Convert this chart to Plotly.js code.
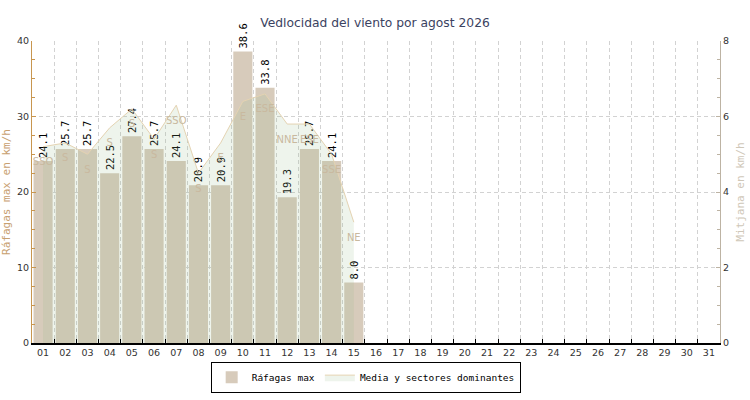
<!DOCTYPE html>
<html>
<head>
<meta charset="utf-8">
<script src="https://cdn.plot.ly/plotly-3.0.1.min.js"></script>
<style>
  body { margin: 0; background: #fff; }
  #chart { width: 750px; height: 400px; }
</style>
</head>
<body>
<div id="chart"></div>
<script>
// dias del mes
var dias = ['01','02','03','04','05','06','07','08','09','10','11','12','13','14','15','16',
            '17','18','19','20','21','22','23','24','25','26','27','28','29','30','31'];
// datos registrados (dias 01-15)
var diasDatos = dias.slice(0, 15);
var rafagas = [24.1, 25.7, 25.7, 22.5, 27.4, 25.7, 24.1, 20.9, 20.9, 38.6, 33.8, 19.3, 25.7, 24.1, 8.0];
var media = [5.2, 5.3, 5.0, 5.7, 6.2, 5.4, 6.3, 4.5, 5.3, 6.4, 6.6, 5.8, 5.8, 5.0, 3.2];
var sectores = ['SSO','S','S','S','S','S','SSO','S','E','E','ESE','NNE','ESE','SSE','NE'];

var mono = 'DejaVu Sans Mono, monospace';
var sans = 'DejaVu Sans, sans-serif';

var trRafagas = {
  x: diasDatos,
  y: rafagas,
  type: 'bar',
  name: 'Ráfagas max',
  marker: { color: '#d7cbbb', line: { color: '#d7cbbb', width: 0 } },
  texttemplate: '%{y:.1f}',
  textposition: 'outside',
  textangle: -90,
  constraintext: 'none',
  cliponaxis: false,
  textfont: { family: mono, size: 10.5, color: '#000' },
  hoverinfo: 'x+y'
};

var trMedia = {
  x: diasDatos,
  y: media,
  yaxis: 'y2',
  type: 'scatter',
  mode: 'lines',
  name: 'Media y sectores dominantes',
  fill: 'tozeroy',
  fillcolor: 'rgba(150,185,135,0.16)',
  line: { color: '#e4d3b2', width: 1 }
};

// etiquetas de sector, un poco por debajo de cada punto
var trSectores = {
  x: diasDatos,
  y: media,
  yaxis: 'y2',
  type: 'scatter',
  mode: 'markers+text',
  marker: { size: 16, opacity: 0 },
  text: sectores,
  textposition: 'bottom center',
  textfont: { family: sans, size: 10, color: '#c9b99f' },
  showlegend: false,
  cliponaxis: false,
  hoverinfo: 'skip'
};

var layout = {
  width: 750,
  height: 400,
  margin: { l: 32, r: 30, t: 41, b: 57, autoexpand: false },
  paper_bgcolor: '#fff',
  plot_bgcolor: '#fff',
  bargap: 0.14,
  title: {
    text: 'Vedlocidad del viento por agost 2026',
    font: { family: sans, size: 12.3, color: '#3b4261' },
    x: 0.5,
    y: 0.943,
    yanchor: 'middle'
  },
  xaxis: {
    type: 'category',
    categoryorder: 'array',
    categoryarray: dias,
    range: [-0.5, 30.5],
    tickson: 'boundaries',
    ticks: 'inside',
    ticklen: 4,
    tickcolor: '#000',
    showline: true,
    linecolor: '#000',
    linewidth: 1.5,
    showgrid: true,
    gridcolor: '#d2d2d2',
    griddash: '4px,3px',
    tickfont: { family: sans, size: 9.5, color: '#333' },
    fixedrange: true
  },
  yaxis: {
    range: [0, 40],
    dtick: 10,
    ticks: 'inside',
    ticklen: 4,
    tickcolor: '#c8964f',
    showline: true,
    linecolor: '#c8964f',
    linewidth: 1,
    showgrid: true,
    gridcolor: '#d2d2d2',
    griddash: '4px,3px',
    zeroline: false,
    minor: { dtick: 2.5, ticks: 'inside', ticklen: 3, tickcolor: '#c8964f', showgrid: false },
    tickfont: { family: sans, size: 9.5, color: '#333' },
    title: { text: 'Ráfagas max en km/h', standoff: 6, font: { family: mono, size: 11, color: '#c8a070' } },
    fixedrange: true
  },
  yaxis2: {
    range: [0, 8],
    dtick: 2,
    overlaying: 'y',
    side: 'right',
    ticks: 'inside',
    ticklen: 4,
    tickcolor: '#bdb3a3',
    showline: true,
    linecolor: '#bdb3a3',
    linewidth: 1,
    showgrid: false,
    zeroline: false,
    minor: { dtick: 0.5, ticks: 'inside', ticklen: 3, tickcolor: '#bdb3a3', showgrid: false },
    tickfont: { family: sans, size: 9.5, color: '#333' },
    title: { text: 'Mitjana en km/h', standoff: 8, font: { family: mono, size: 11, color: '#cfc7b8' } },
    fixedrange: true
  },
  showlegend: true,
  legend: {
    orientation: 'h',
    x: 0.485,
    xanchor: 'center',
    y: -0.113,
    yanchor: 'middle',
    bgcolor: '#fff',
    bordercolor: '#000',
    borderwidth: 1,
    font: { family: mono, size: 9.5, color: '#000' },
    itemwidth: 30,
    tracegroupgap: 0
  }
};

Plotly.newPlot('chart', [trRafagas, trMedia, trSectores], layout, { displayModeBar: false, staticPlot: true });
</script>
</body>
</html>
